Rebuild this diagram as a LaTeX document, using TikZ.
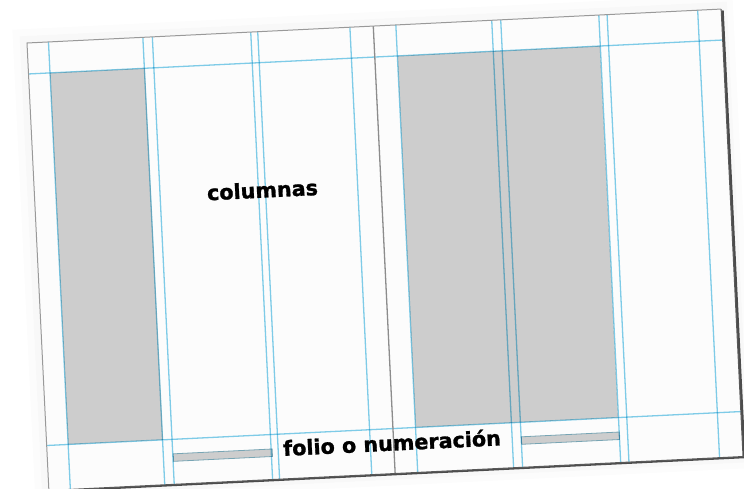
\documentclass[tikz,border=0pt]{standalone}
\usepackage{fontspec}
\newfontfamily\labelfont{DejaVu Sans Bold}[FakeBold=1.3]
\definecolor{gridblue}{RGB}{128,206,234}
\definecolor{boxgray}{RGB}{205,205,205}
\definecolor{pagewhite}{RGB}{252,252,252}
\begin{document}
\begin{tikzpicture}[x=1pt,y=-1pt,
  gridline/.style={draw=gridblue, line width=1.3pt},
  colbox/.style={fill=boxgray},
  foliobar/.style={fill=boxgray, draw={rgb,255:red,120;green,165;blue,180}, line width=0.8pt},
  lbl/.style={font=\labelfont\fontsize{20.7}{22}\selectfont, text=black, inner sep=0pt, anchor=base, transform shape}]
\useasboundingbox (0,0) rectangle (744,488);
\fill[white] (0,0) rectangle (744,488);
\begin{scope}[shift={(27,43)}, rotate=2.8]
  % soft halo and shadow
  \fill[black, opacity=0.012] (-14,-14) rectangle (707,460);
  \fill[black, opacity=0.015] (-7,-7) rectangle (701,454);
  \fill[black!70] (1.5,1.5) rectangle (697.5,449.8);
  % page
  \fill[pagewhite] (0,0) rectangle (695,448);
  % column boxes
  \fill[colbox] (21.5,31) rectangle (116.5,403);
  \fill[colbox] (369.5,31) rectangle (572,403);
  % folio bars
  \draw[foliobar] (126,417.5) rectangle (225,425);
  \draw[foliobar] (474.5,417.5) rectangle (572.5,425);
  % grid lines
  \begin{scope}[blend mode=multiply]
    \foreach \xx in {21.5,116,125.5,224,231,323.3,369.3,465.3,474.3,572.5,580.8,671.5}
      \draw[gridline] (\xx,0) -- (\xx,448);
    \foreach \yy in {31,403}
      \draw[gridline] (0,\yy) -- (695,\yy);
  \end{scope}
  % spine
  \draw[black!45, line width=1.3pt] (346.7,0) -- (346.7,448);
  % page border
  \draw[black!40, line width=1pt] (0,448) -- (0,0) -- (695,0);
  \draw[black!65, line width=1pt] (695,0) -- (695,448) -- (0,448);
  % labels
  \node[lbl] (columnas) at (228,166) {columnas};
  \node[lbl] (folio) at (345,425) {folio o numeración};
\end{scope}
\end{tikzpicture}
\end{document}
